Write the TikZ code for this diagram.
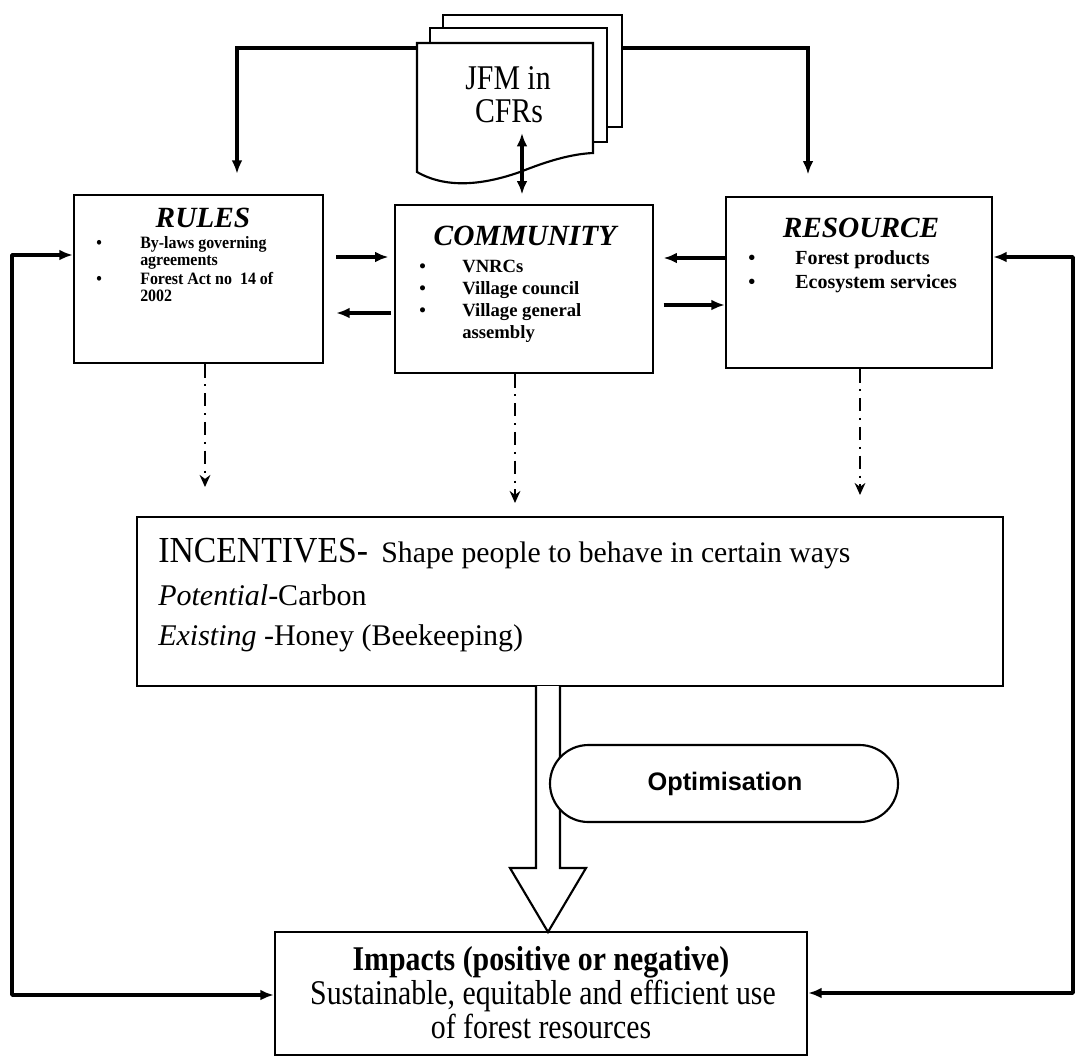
\documentclass[tikz,border=0pt]{standalone}
\usepackage{fontspec}
\setmainfont{Liberation Serif}
\newfontfamily\optfont{Liberation Sans}
\newfontfamily\narrowfont[FakeStretch=0.86]{Liberation Serif}
\newfontfamily\slimfont[FakeStretch=0.92]{Liberation Serif}
\usetikzlibrary{arrows.meta,fit,calc}

\begin{document}
\begin{tikzpicture}[x=0.75pt,y=-0.75pt,
  box/.style={draw, line width=1.8pt, inner sep=0pt, fill=white},
  page/.style={draw, line width=1.6pt, inner sep=0pt, fill=white},
  conn/.style={line width=2.6pt, -{Latex[length=10pt,width=8pt]}},
  dconn/.style={line width=2.6pt, {Latex[length=10pt,width=8pt]}-{Latex[length=10pt,width=8pt]}},
  dashdot/.style={line width=2pt, dash pattern=on 10pt off 5pt on 1.6pt off 5pt, -{Stealth[length=9pt,width=8pt]}},
  txt/.style={inner sep=0pt, anchor=base west},
  ttl/.style={inner sep=0pt, anchor=base, font=\fontsize{22}{26}\selectfont\bfseries\itshape},
  rtxt/.style={txt, font=\slimfont\bfseries\fontsize{13}{15}\selectfont},
  ctxt/.style={txt, font=\bfseries\fontsize{14}{17}\selectfont},
  stxt/.style={txt, font=\bfseries\fontsize{15}{18}\selectfont},
  itxt/.style={txt, font=\fontsize{22.5}{27}\selectfont},
  mtxt/.style={inner sep=0pt, anchor=base, font=\narrowfont\fontsize{26}{30}\selectfont},
]
\useasboundingbox (0,0) rectangle (1080,1058);

% ---- stacked document: JFM in CFRs ----
\node[page, fit={(443,15) (622,127)}] (jfmc) {};
\node[page, fit={(430,28) (607,142)}] (jfmb) {};
\draw[line width=1.6pt, fill=white] (417,43) -- (593,43) -- (593,153)
  .. controls (570,154) and (545,162) .. (520,172)
  .. controls (480,186) and (445,188) .. (417,172) -- cycle;
\node[inner sep=0pt, fit={(417,43) (593,172)}] (jfm) {};
\node[inner sep=0pt, anchor=base, font=\narrowfont\fontsize{26}{30}\selectfont] (jfm1) at (508,89) {JFM in};
\node[inner sep=0pt, anchor=base, font=\narrowfont\fontsize{26}{30}\selectfont] (jfm2) at (509,122) {CFRs};

% ---- the three upper boxes ----
\node[box, fit={(74,195) (323,363)}] (rules) {};
\node[box, fit={(395,205) (653,373)}] (community) {};
\node[box, fit={(726,197) (992,368)}] (resource) {};

% RULES
\node[ttl] (rules-t) at (203,227) {RULES};
\node[rtxt] (rules-d1) at (96,248) {•};
\node[rtxt] (rules-l1) at (140,248) {By-laws governing};
\node[rtxt] (rules-l2) at (140,265) {agreements};
\node[rtxt] (rules-d2) at (96,284) {•};
\node[rtxt] (rules-l3) at (140,284) {Forest Act no\ \ 14 of};
\node[rtxt] (rules-l4) at (140,301) {2002};

% COMMUNITY
\node[ttl] (comm-t) at (525,245) {COMMUNITY};
\node[ctxt] (comm-d1) at (419,272) {•};
\node[ctxt] (comm-l1) at (462,272) {VNRCs};
\node[ctxt] (comm-d2) at (419,294) {•};
\node[ctxt] (comm-l2) at (462,294) {Village council};
\node[ctxt] (comm-d3) at (419,316) {•};
\node[ctxt] (comm-l3) at (462,316) {Village general};
\node[ctxt] (comm-l4) at (462,338) {assembly};

% RESOURCE
\node[ttl] (res-t) at (861,237) {RESOURCE};
\node[stxt] (res-d1) at (748,264) {•};
\node[stxt] (res-l1) at (795,264) {Forest products};
\node[stxt] (res-d2) at (748,288) {•};
\node[stxt] (res-l2) at (795,288) {Ecosystem services};

% ---- INCENTIVES box ----
\node[box, fit={(137,517) (1003,686)}] (incent) {};
\node[txt] (inc-l1) at (158,562) {{\slimfont\fontsize{27.5}{32}\selectfont INCENTIVES-}\hspace{10pt}{\fontsize{22.3}{27}\selectfont Shape people to behave in certain ways}};
\node[itxt] (inc-l2) at (158,605) {\textit{Potential}-Carbon};
\node[itxt] (inc-l3) at (158,645) {\textit{Existing} -Honey (Beekeeping)};

% ---- Impacts box ----
\node[box, fit={(275,932) (807,1055)}] (impacts) {};
\node[mtxt, font=\narrowfont\bfseries\fontsize{26}{30}\selectfont] (imp-l1) at (541,970) {Impacts (positive or negative)};
\node[mtxt] (imp-l2) at (543,1004) {Sustainable, equitable and efficient use};
\node[mtxt] (imp-l3) at (541,1038) {of forest resources};

% ---- hollow arrow from INCENTIVES to Impacts ----
\draw[line width=1.6pt, fill=white, line join=miter]
  (536,686) -- (536,868) -- (510,868) -- (548,932) -- (586,868) -- (560,868) -- (560,686);

% ---- Optimisation ----
\node[draw, line width=1.6pt, fill=white, inner sep=0pt, rounded corners=28.8pt,
      fit={(550,745) (898,822)}] (optim) {};
\node[inner sep=0pt, font=\optfont\bfseries\fontsize{19}{23}\selectfont] (optim-t) at (725,784) {Optimisation};

% ---- connectors from the document ----
\coordinate (tl) at (237,48);
\coordinate (tr) at (808,48);
\draw[conn, shorten >=15pt] (jfm.west |- tl) -- (tl) -- (tl |- rules.north);
\draw[conn, shorten >=16pt] (jfmc.east |- tr) -- (tr) -- (tr |- resource.north);
\coordinate (dtop) at (522,133);
\draw[dconn, shorten >=7pt] (dtop) -- (dtop |- community.north);

% ---- connectors between the upper boxes ----
\coordinate (ya) at (0,257);
\coordinate (yb) at (0,313);
\coordinate (yc) at (0,258);
\coordinate (yd) at (0,305);
\draw[conn, shorten <=9pt, shorten >=4pt] (rules.east |- ya) -- (community.west |- ya);
\draw[conn, shorten <=2pt, shorten >=9pt] (community.west |- yb) -- (rules.east |- yb);
\draw[conn, shorten >=7pt] (resource.west |- yc) -- (community.east |- yc);
\draw[conn, shorten <=7pt] (community.east |- yd) -- (resource.west |- yd);

% ---- dash-dot links down to INCENTIVES ----
\coordinate (d1) at (205,487);
\coordinate (d2) at (515,503);
\coordinate (d3) at (860,495);
\draw[dashdot] (d1 |- rules.south) -- (d1);
\draw[dashdot] (d2 |- community.south) -- (d2);
\draw[dashdot] (d3 |- resource.south) -- (d3);

% ---- feedback loops from Impacts ----
\coordinate (lt) at (12,255);
\coordinate (lb) at (12,995);
\coordinate (rt) at (1073,257);
\coordinate (rb) at (1073,993);
\draw[dconn, line join=round] (rules.west |- lt) -- (lt) -- (lb) -- (impacts.west |- lb);
\draw[dconn, line join=round] (resource.east |- rt) -- (rt) -- (rb) -- (impacts.east |- rb);
\end{tikzpicture}
\end{document}
